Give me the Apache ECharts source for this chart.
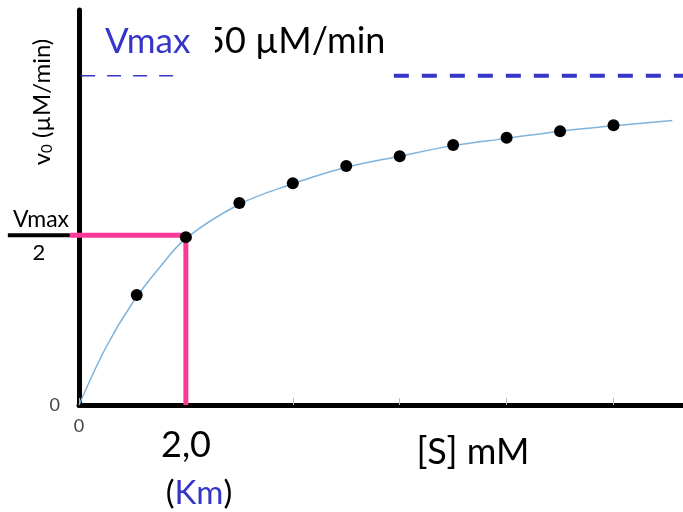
<!DOCTYPE html>
<html>
<head>
<meta charset="utf-8">
<script src="https://cdn.jsdelivr.net/npm/echarts@6/dist/echarts.min.js"></script>
<style>
  html, body { margin: 0; padding: 0; background: #fff; }
  #chart { width: 683px; height: 512px; }
</style>
</head>
<body>
<div id="chart"></div>
<script>
// measured points: [S] (mM) vs v0 (µM/min)
const sValues = [1.08, 2, 3, 4, 5, 6, 7, 8, 9, 10];
const v0Values = [16.7, 25.5, 30.7, 33.7, 36.3, 37.8, 39.5, 40.6, 41.6, 42.5];

// fitted curve
const curveS = [0, 0.5, 1, 1.5, 2, 3, 4, 5, 6, 7, 8, 9, 10, 11.1];
const curveV = [0, 8.7, 15.5, 20.8, 25.3, 30.5, 33.6, 36.1, 37.8, 39.4, 40.5, 41.6, 42.4, 43.2];

const vmax = 50;
const halfLevel = 25.8;   // where the Vmax/2 guide is drawn
const km = 2;

const xMax = 11.3;
const yMax = 60;
// overlay grid spans the whole width so guides can reach left of the y axis
const overlayMin = -1.477;

const pointData = sValues.map((s, i) => [s, v0Values[i]]);
const curveData = curveS.map((s, i) => [s, curveV[i]]);

const font = "Lato, 'Open Sans', sans-serif";

let chart = echarts.init(document.getElementById("chart"));

let option = {
  animation: false,
  backgroundColor: "#fff",
  grid: [
    { left: 79, top: 10, right: 0, bottom: 107, outerBoundsMode: "none" },
    { left: 0, top: 10, right: 0, bottom: 107, outerBoundsMode: "none" }
  ],
  xAxis: [
    {
      type: "value",
      gridIndex: 0,
      min: 0,
      max: xMax,
      interval: 2,
      splitLine: { show: false },
      axisLine: { lineStyle: { color: "#000", width: 5 } },
      axisTick: { inside: true, length: 7, lineStyle: { color: "#bbb", width: 1 } },
      axisLabel: {
        margin: 12,
        fontFamily: font,
        fontSize: 18,
        color: "#444",
        formatter: function (v) { return v === 0 ? "0" : ""; }
      }
    },
    {
      type: "value",
      gridIndex: 1,
      min: overlayMin,
      max: xMax,
      show: false
    }
  ],
  yAxis: [
    {
      type: "value",
      gridIndex: 0,
      min: 0,
      max: yMax,
      interval: 10,
      splitLine: { show: false },
      axisLine: { lineStyle: { color: "#000", width: 5 } },
      axisTick: { show: false },
      axisLabel: {
        margin: 19,
        fontFamily: font,
        fontSize: 18,
        color: "#444",
        formatter: function (v) { return v === 0 ? "0" : ""; }
      }
    },
    {
      type: "value",
      gridIndex: 1,
      min: 0,
      max: yMax,
      show: false
    }
  ],
  series: [
    {
      // Vmax guide, thin part on the left
      type: "line",
      data: [[0.04, vmax], [1.89, vmax]],
      symbol: "none",
      lineStyle: { color: "#3535c8", width: 1.5, type: [14, 12] },
      z: 3
    },
    {
      // Vmax guide, thick part on the right
      type: "line",
      data: [[5.89, vmax], [xMax, vmax]],
      symbol: "none",
      lineStyle: { color: "#3535c8", width: 4, type: [15, 13] },
      z: 3
    },
    {
      type: "line",
      data: curveData,
      smooth: 0.35,
      symbol: "none",
      lineStyle: { color: "#7fb3dc", width: 1.5 },
      z: 4
    },
    {
      // fraction bar for Vmax/2, left of the axis
      type: "line",
      xAxisIndex: 1,
      yAxisIndex: 1,
      data: [[-1.33, halfLevel], [-0.17, halfLevel]],
      symbol: "none",
      lineStyle: { color: "#000", width: 4 },
      z: 5
    },
    {
      // Km guide
      type: "line",
      xAxisIndex: 1,
      yAxisIndex: 1,
      data: [[-0.17, halfLevel], [km, halfLevel], [km, 0]],
      symbol: "none",
      lineStyle: { color: "#fb3a97", width: 5, join: "miter" },
      z: 5
    },
    {
      type: "scatter",
      data: pointData,
      symbolSize: 12,
      itemStyle: { color: "#000", opacity: 1 },
      z: 6
    }
  ],
  graphic: [
    {
      type: "text",
      left: 105,
      top: 24,
      style: { text: "Vmax", fill: "#3535c8", font: "35px " + font }
    },
    {
      type: "text",
      left: 204,
      top: 23,
      style: { text: "50 µM/min", fill: "#000", font: "36px " + font }
    },
    {
      // covers the left edge of the "5", as in the original
      type: "rect",
      shape: { x: 196, y: 26, width: 19, height: 42 },
      style: { fill: "#fff" },
      z: 10
    },
    {
      type: "text",
      x: 42,
      y: 102,
      rotation: Math.PI / 2,
      style: {
        text: "{v|v}{s|0}{t| (µM/min)}",
        align: "center",
        verticalAlign: "middle",
        rich: {
          v: { fontFamily: font, fontSize: 24, fill: "#000" },
          s: { fontFamily: font, fontSize: 15, fill: "#000", padding: [10, 0, 0, 0] },
          t: { fontFamily: font, fontSize: 24, fill: "#000" }
        }
      }
    },
    {
      type: "text",
      x: 41,
      y: 220,
      style: { text: "Vmax", align: "center", verticalAlign: "middle", fill: "#000", font: "23px " + font }
    },
    {
      type: "text",
      x: 39,
      y: 253,
      style: { text: "2", align: "center", verticalAlign: "middle", fill: "#000", font: "22px " + font }
    },
    {
      type: "text",
      x: 186,
      y: 445,
      style: { text: "2,0", align: "center", verticalAlign: "middle", fill: "#000", font: "36px " + font }
    },
    {
      type: "text",
      x: 199,
      y: 493,
      style: {
        text: "({k|Km})",
        align: "center",
        verticalAlign: "middle",
        font: "33px " + font,
        fill: "#000",
        rich: { k: { fontFamily: font, fontSize: 33, fill: "#3535c8" } }
      }
    },
    {
      type: "text",
      x: 473,
      y: 452,
      style: { text: "[S] mM", align: "center", verticalAlign: "middle", fill: "#000", font: "36px " + font }
    }
  ]
};

chart.setOption(option);
</script>
</body>
</html>
